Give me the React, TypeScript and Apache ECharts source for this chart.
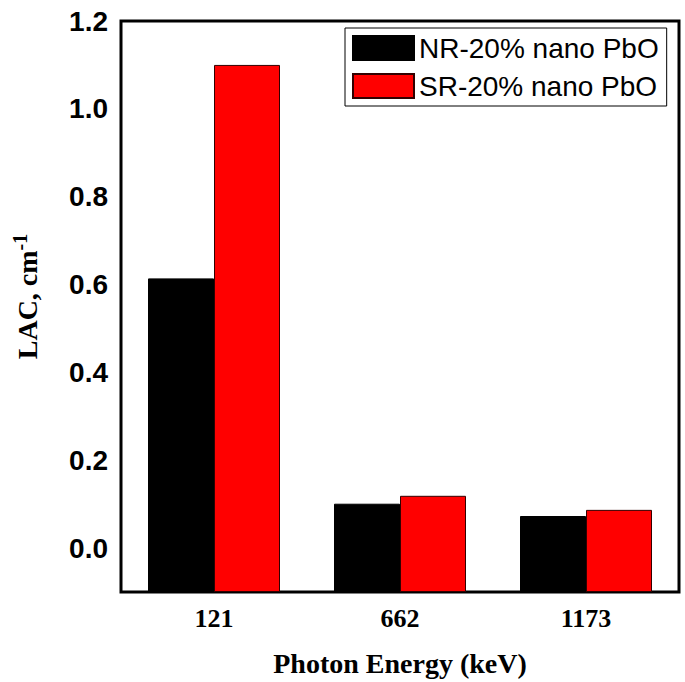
import React, { useEffect, useRef } from "react";
import * as echarts from "echarts";

const categories = ["121", "662", "1173"];
const nrValues = [0.614, 0.101, 0.073];
const srValues = [1.1, 0.119, 0.087];
const seriesNames = ["NR-20% nano PbO", "SR-20% nano PbO"];

export default function App() {
  const ref = useRef<HTMLDivElement>(null);
  useEffect(() => {
    const chart = echarts.init(ref.current!, null, { renderer: "svg" });
    chart.setOption({
      animation: false,
      backgroundColor: "#fff",
      grid: {
        left: 121,
        right: 6,
        top: 21,
        bottom: 90,
        show: true,
        borderColor: "#000",
        borderWidth: 3,
        containLabel: false,
        outerBoundsMode: "none",
      },
      legend: {
        data: seriesNames,
        orient: "vertical",
        left: 345,
        top: 28,
        width: 318,
        icon: "rect",
        itemWidth: 61,
        itemHeight: 24,
        itemGap: 10,
        padding: [6, 8, 6, 7],
        borderColor: "#000",
        borderWidth: 1,
        backgroundColor: "#fff",
        textStyle: { fontFamily: "Arial, Liberation Sans", fontSize: 28, color: "#000" },
      },
      xAxis: {
        type: "category",
        data: categories,
        name: "Photon Energy (keV)",
        nameLocation: "middle",
        nameGap: 57,
        nameTextStyle: { fontFamily: "Times New Roman, Liberation Serif", fontWeight: "bold", fontSize: 28, color: "#000" },
        axisLine: { show: false },
        axisTick: { show: false },
        axisLabel: { fontFamily: "Times New Roman, Liberation Serif", fontWeight: "bold", fontSize: 26, color: "#000", margin: 13 },
        splitLine: { show: false },
      },
      yAxis: {
        type: "value",
        min: -0.1,
        max: 1.2,
        interval: 0.1,
        startValue: -0.1,
        name: "LAC, cm{sup|-1}",
        nameLocation: "middle",
        nameGap: 77,
        nameTextStyle: {
          fontFamily: "Times New Roman, Liberation Serif",
          fontWeight: "bold",
          fontSize: 28,
          color: "#000",
          padding: [0, 0, 0, 20],
          rich: {
            sup: { fontFamily: "Times New Roman, Liberation Serif", fontWeight: "bold", fontSize: 20, verticalAlign: "top", padding: [0, 0, 14, 0] },
          },
        },
        axisLine: { show: false },
        axisTick: { show: false },
        splitLine: { show: false },
        axisLabel: {
          fontFamily: "Arial, Liberation Sans",
          fontWeight: "bold",
          fontSize: 28,
          color: "#000",
          margin: 13,
          formatter: (v: number) => {
            const k = Math.round(v * 10);
            return k % 2 === 0 ? (k / 10).toFixed(1) : "";
          },
        },
      },
      series: [
        {
          name: seriesNames[0],
          type: "bar",
          data: nrValues,
          barWidth: 66,
          barGap: "0%",
          itemStyle: { color: "#000", borderColor: "#000", borderWidth: 1 },
        },
        {
          name: seriesNames[1],
          type: "bar",
          data: srValues,
          barWidth: 66,
          barGap: "0%",
          itemStyle: { color: "#ff0000", borderColor: "#300", borderWidth: 1 },
        },
      ],
    });
    return () => chart.dispose();
  }, []);
  return <div ref={ref} style={{ width: 685, height: 682, position: "absolute", left: 0, top: 0 }} />;
}
